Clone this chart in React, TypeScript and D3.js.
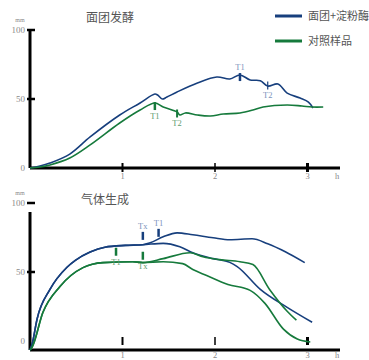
import React from "react";
import * as d3 from "d3";

type P = [number, number];

// ---- Top chart: 面团发酵 (dough fermentation), x in h, y in mm
const topBlue: P[] = [
  [0, 0], [0.108, 1.4], [0.216, 3.6], [0.43, 10.1], [0.65, 22.5], [0.97, 38.4],
  [1.19, 47.1], [1.35, 53.6], [1.38, 52.9], [1.43, 50], [1.48, 51.4], [1.59, 55.1],
  [1.81, 61.6], [2.02, 65.9], [2.16, 64.5], [2.27, 67.4], [2.38, 63.8], [2.49, 63.3],
  [2.57, 59.4], [2.68, 60.9], [2.78, 54.3], [2.92, 50.7], [3.01, 47.8], [3.06, 43.5],
];
const topGreen: P[] = [
  [0, 0], [0.108, 0.7], [0.216, 2.2], [0.43, 7.2], [0.65, 16.7], [0.97, 32.6],
  [1.19, 42], [1.35, 47.1], [1.44, 44.2], [1.59, 40.6], [1.62, 38.4], [1.68, 39.9],
  [1.81, 38.4], [1.95, 37.7], [2.09, 39.1], [2.27, 39.9], [2.41, 42], [2.52, 44.2],
  [2.78, 45.7], [2.94, 44.9], [3.05, 44.2], [3.17, 44.2],
];
// markers: [x, centre y, label, label above?, stroke width]
const topBlueMarks: [number, number, string, boolean, number][] = [
  [2.27, 65.9, "T1", true, 2.5], [2.57, 59.8, "T2", false, 1.2],
];
const topGreenMarks: [number, number, string, boolean, number][] = [
  [1.35, 44.9, "T1", false, 2.5], [1.59, 39.5, "T2", false, 2],
];

// ---- Bottom chart: 气体生成 (gas production)
const botBlueA: P[] = [
  [0, 0], [0.022, 4], [0.076, 22.3], [0.216, 43.9], [0.4, 60], [0.49, 65],
  [0.65, 71], [0.81, 74.5], [1.03, 75.8], [1.22, 76.3], [1.3, 77.7],
  [1.44, 82], [1.59, 84.9], [1.76, 83.5], [1.98, 81.3], [2.16, 79.9], [2.4, 80.6],
  [2.57, 77], [2.76, 71.2], [2.97, 63.3],
];
const botBlueB: P[] = [
  [0, 0], [0.022, 4], [0.076, 22.3], [0.216, 43.9], [0.4, 60], [0.49, 65],
  [0.65, 71], [0.81, 74.5], [1.03, 75.8], [1.22, 76.3], [1.44, 77.3],
  [1.62, 74.8], [1.76, 70.5], [1.98, 66.2], [2.16, 63.5], [2.24, 60.4], [2.49, 43.9],
  [2.78, 30.9], [3.05, 20.1],
];
const botGreenA: P[] = [
  [0, 0], [0.022, 2], [0.14, 27.3], [0.324, 46], [0.573, 59.7], [0.79, 63.3],
  [1.11, 64], [1.22, 63.3], [1.44, 66.2], [1.73, 70.5], [1.87, 67.6], [2.05, 65.5],
  [2.27, 64], [2.41, 61.9], [2.59, 43.9], [2.78, 28.1], [2.88, 21.6],
];
const botGreenB: P[] = [
  [0, 0], [0.022, 2], [0.14, 27.3], [0.324, 46], [0.573, 59.7], [0.79, 63.3],
  [1.11, 64], [1.22, 63.3], [1.44, 64], [1.65, 62.6], [1.76, 58.3], [1.91, 54],
  [2.14, 47.5], [2.38, 43.2], [2.54, 33.8], [2.74, 15.1], [2.89, 7.9], [3.03, 5.8],
];
const botBlueMarks: [number, number, string, boolean, number][] = [
  [1.22, 82.7, "Tx", true, 2.5], [1.39, 84.9, "T1", true, 2.5],
];
const botGreenMarks: [number, number, string, boolean, number][] = [
  [0.93, 71.2, "T1", false, 2.5], [1.22, 68.3, "Tx", false, 2.5],
];

const yTicks = [0, 50, 100];
const xTicks = [1, 2, 3];
const legendItems = ["面团+淀粉酶", "对照样品"];
const titles = ["面团发酵", "气体生成"];

const BLUE = "#173f7d";
const GREEN = "#167a3c";
const BLUE_L = "#7d93bd";
const GREEN_L = "#5f9c70";
const GRAY = "#8a8a8a";
const TXT = "#555";
const SERIF = "'Liberation Serif', 'DejaVu Serif', serif";
const CJK = "'Noto Sans CJK SC', sans-serif";

const x = d3.scaleLinear().domain([0, 1]).range([30, 122.5]);
const xTickW = [2, 1.5, 3];

function Panel({ top, yLabelShift, blues, greens, blueMarks, greenMarks, title, floatingTicks, smooth, labelDy }: any) {
  const y = d3.scaleLinear().domain([0, 100]).range([top + 138, top]);
  const line = d3
    .line<P>()
    .x((d) => x(d[0]))
    .y((d) => y(d[1]))
    .curve(smooth ? d3.curveMonotoneX : d3.curveCatmullRom.alpha(0.5));
  const base = y(0);
  const s = yLabelShift;
  const mark = (m: any, color: string, lc: string, i: number) => {
    const cx = x(m[0]);
    const cy = y(m[1]);
    return (
      <g key={i}>
        <line x1={cx} x2={cx} y1={cy - 4} y2={cy + 4} stroke={color} strokeWidth={m[4]} />
        <text x={cx} y={m[3] ? cy - 7 : cy + 13} textAnchor="middle" fontFamily={SERIF} fontSize={8.5} fill={lc}>
          {m[2]}
        </text>
      </g>
    );
  };
  return (
    <g>
      <text x={top < 100 ? 110 : 105} y={top - 8} textAnchor="middle" fontFamily={CJK} fontSize={12} fill={TXT}>
        {title}
      </text>
      <text x={20} y={top - 8 + s} textAnchor="middle" fontFamily={SERIF} fontSize={6} fill={GRAY}>mm</text>
      {/* y axis */}
      <line x1={30} x2={30} y1={top} y2={base} stroke="#000" strokeWidth={3} />
      {yTicks.map((t) => (
        <g key={t}>
          {t > 0 && <line x1={27} x2={35} y1={y(t) + s} y2={y(t) + s} stroke="#000" strokeWidth={2.5} />}
          <text x={25} y={y(t) + s} dy="0.35em" textAnchor="end" fontFamily={SERIF} fontSize={9} fill={GRAY}>
            {t}
          </text>
        </g>
      ))}
      {/* x axis */}
      <line x1={30} x2={340} y1={base} y2={base} stroke="#000" strokeWidth={3} />
      {xTicks.map((t, i) => (
        <g key={t}>
          <line
            x1={x(t)} x2={x(t)}
            y1={floatingTicks ? base - 13 : base - 5}
            y2={floatingTicks ? base - 5 : base + 4}
            stroke="#000" strokeWidth={xTickW[i]}
          />
          <text x={x(t)} y={base + labelDy} dy="0.35em" textAnchor="middle" fontFamily={SERIF} fontSize={8.5} fill={GRAY}>
            {t}
          </text>
        </g>
      ))}
      <text x={337} y={base + labelDy} dy="0.35em" textAnchor="middle" fontFamily={SERIF} fontSize={8.5} fill={GRAY}>h</text>
      {blues.map((d: P[], i: number) => (
        <path key={"b" + i} d={line(d) || ""} fill="none" stroke={BLUE} strokeWidth={1.6} />
      ))}
      {greens.map((d: P[], i: number) => (
        <path key={"g" + i} d={line(d) || ""} fill="none" stroke={GREEN} strokeWidth={1.6} />
      ))}
      {blueMarks.map((m: any, i: number) => mark(m, BLUE, BLUE_L, i))}
      {greenMarks.map((m: any, i: number) => mark(m, GREEN, GREEN_L, i + 10))}
    </g>
  );
}

export default function App() {
  return (
    <svg width={369} height={360} style={{ position: "absolute", left: 0, top: 0, background: "#fff" }}>
      <rect width={369} height={360} fill="#fff" />
      <Panel top={30} yLabelShift={0} blues={[topBlue]} greens={[topGreen]}
        blueMarks={topBlueMarks} greenMarks={topGreenMarks} title={titles[0]} floatingTicks={false}
        smooth={false} labelDy={8} />
      <Panel top={212} yLabelShift={-9} blues={[botBlueA, botBlueB]} greens={[botGreenA, botGreenB]}
        blueMarks={botBlueMarks} greenMarks={botGreenMarks} title={titles[1]} floatingTicks={true}
        smooth={true} labelDy={5} />
      {legendItems.map((l, i) => (
        <g key={l}>
          <line x1={275} x2={302} y1={16 + i * 25} y2={16 + i * 25} stroke={i === 0 ? BLUE : GREEN} strokeWidth={3} />
          <text x={308} y={16 + i * 25} dy="0.35em" fontFamily={CJK} fontSize={11} fill={TXT}>{l}</text>
        </g>
      ))}
    </svg>
  );
}
